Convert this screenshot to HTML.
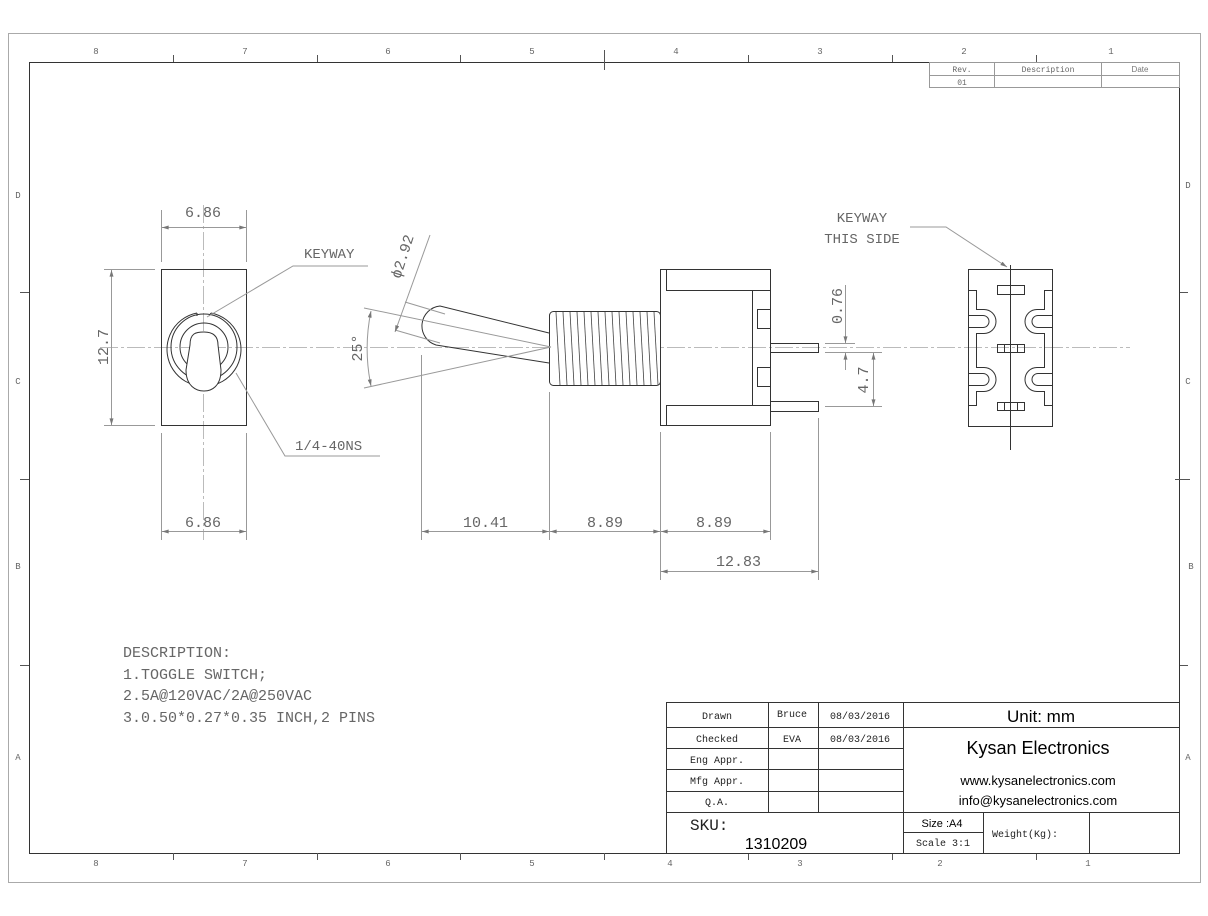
<!DOCTYPE html>
<html><head><meta charset="utf-8"><style>
html,body{margin:0;padding:0;background:#fff;}
svg{display:block;}
text{font-family:"Liberation Mono",monospace;fill:#666;}
.s{font-family:"Liberation Sans",sans-serif;fill:#000;}
</style></head><body>
<svg width="1208" height="916" viewBox="0 0 1208 916" xmlns="http://www.w3.org/2000/svg">
<defs>
<marker id="a" viewBox="0 0 10 6" refX="10" refY="3" markerWidth="8" markerHeight="4" orient="auto-start-reverse"><path d="M0,0L10,3L0,6z" fill="#777"/></marker>
</defs>
<rect x="8.5" y="33.5" width="1192" height="849" fill="none" stroke="#aaa" stroke-width="1"/>
<rect x="29.5" y="62.5" width="1150" height="791" fill="none" stroke="#333" stroke-width="1"/>
<g stroke="#555" stroke-width="1">
<line x1="173.5" y1="55" x2="173.5" y2="62"/><line x1="317.5" y1="55" x2="317.5" y2="62"/><line x1="460.5" y1="55" x2="460.5" y2="62"/><line x1="604.5" y1="50" x2="604.5" y2="70"/><line x1="748.5" y1="55" x2="748.5" y2="62"/><line x1="892.5" y1="55" x2="892.5" y2="62"/><line x1="1036.5" y1="55" x2="1036.5" y2="62"/>
<line x1="173.5" y1="853" x2="173.5" y2="860"/><line x1="317.5" y1="853" x2="317.5" y2="860"/><line x1="460.5" y1="853" x2="460.5" y2="860"/><line x1="604.5" y1="853" x2="604.5" y2="860"/><line x1="748.5" y1="853" x2="748.5" y2="860"/><line x1="892.5" y1="853" x2="892.5" y2="860"/><line x1="1036.5" y1="853" x2="1036.5" y2="860"/>
<line x1="20" y1="292.5" x2="29" y2="292.5"/><line x1="20" y1="479.5" x2="29" y2="479.5"/><line x1="20" y1="665.5" x2="29" y2="665.5"/>
<line x1="1180" y1="292.5" x2="1188" y2="292.5"/><line x1="1175" y1="479.5" x2="1190" y2="479.5"/><line x1="1180" y1="665.5" x2="1188" y2="665.5"/>
</g>
<g font-size="9" text-anchor="middle">
<text x="96" y="54">8</text><text x="245" y="54">7</text><text x="388" y="54">6</text><text x="532" y="54">5</text><text x="676" y="54">4</text><text x="820" y="54">3</text><text x="964" y="54">2</text><text x="1111" y="54">1</text>
<text x="96" y="866">8</text><text x="245" y="866">7</text><text x="388" y="866">6</text><text x="532" y="866">5</text><text x="670" y="866">4</text><text x="800" y="866">3</text><text x="940" y="866">2</text><text x="1088" y="866">1</text>
<text x="18" y="198">D</text><text x="18" y="384">C</text><text x="18" y="569">B</text><text x="18" y="760">A</text>
<text x="1188" y="188">D</text><text x="1188" y="384">C</text><text x="1191" y="569">B</text><text x="1188" y="760">A</text>
</g>
<g stroke="#999" stroke-width="1" fill="none">
<rect x="929.5" y="62.5" width="250" height="25"/>
<line x1="929" y1="75.5" x2="1179" y2="75.5"/>
<line x1="994.5" y1="62" x2="994.5" y2="88"/><line x1="1101.5" y1="62" x2="1101.5" y2="88"/>
</g>
<g font-size="8" text-anchor="middle"><text x="962" y="72">Rev.</text><text x="1048" y="72">Description</text><text x="1140" y="72" class="s" style="fill:#777">Date</text><text x="962" y="85">01</text></g>

<g stroke="#bbb" stroke-width="1" stroke-dasharray="18,3,3,3" fill="none">
<line x1="100" y1="347.5" x2="1130" y2="347.5"/>
<line x1="203.5" y1="205" x2="203.5" y2="540"/>
</g>

<g stroke="#333" stroke-width="1" fill="none">
<rect x="161.5" y="269.5" width="85" height="156"/>
<path d="M197,313 A37,37 0 1 0 211,313"/>
<path d="M197,313 L197,316 M211,313 L209,316"/>
<circle cx="204" cy="347" r="33"/>
<circle cx="204" cy="347" r="24"/>
<path d="M190,345 C190,333 196,332 204,332 C212,332 218,335 218,345 L221,370 C221,386 212,391 204,391 C196,391 186,386 186,370 Z" fill="#fff"/>
</g>
<g stroke="#999" stroke-width="1" fill="none">
<line x1="161.5" y1="210" x2="161.5" y2="262"/><line x1="246.5" y1="210" x2="246.5" y2="262"/>
<line x1="162" y1="227.5" x2="246" y2="227.5" marker-start="url(#a)" marker-end="url(#a)"/>
<line x1="161.5" y1="433" x2="161.5" y2="540"/><line x1="246.5" y1="433" x2="246.5" y2="540"/>
<line x1="162" y1="531.5" x2="246" y2="531.5" marker-start="url(#a)" marker-end="url(#a)"/>
<line x1="104" y1="269.5" x2="155" y2="269.5"/><line x1="104" y1="425.5" x2="155" y2="425.5"/>
<line x1="111.5" y1="270" x2="111.5" y2="425" marker-start="url(#a)" marker-end="url(#a)"/>
<path d="M207,317 L293,266 H368"/>
<path d="M236,373 L285,456 H380"/>
</g>
<g font-size="15"><text x="185" y="217">6.86</text><text x="185" y="527">6.86</text>
<text transform="translate(108,347) rotate(-90)" text-anchor="middle">12.7</text>
<text x="304" y="258" font-size="14">KEYWAY</text><text x="295" y="450" font-size="14">1/4-40NS</text></g>

<g stroke="#333" stroke-width="1" fill="none">
<path d="M549,333 L440,306 A20,20 0 0 0 436,345 L549,363"/>
<rect x="549.5" y="311.5" width="111" height="74" rx="4" fill="#fff"/>
<rect x="660.5" y="269.5" width="110" height="156"/>
<line x1="666.5" y1="270" x2="666.5" y2="290"/><line x1="666.5" y1="405" x2="666.5" y2="425"/>
<line x1="666" y1="290.5" x2="770" y2="290.5"/><line x1="666" y1="405.5" x2="770" y2="405.5"/>
<path d="M752.5,291 V405 M770,309.5 H757.5 V328.5 H770 M770,367.5 H757.5 V386.5 H770"/>
<rect x="770.5" y="343.5" width="48" height="9"/>
<rect x="770.5" y="401.5" width="48" height="10"/>
</g>
<g stroke="#444" stroke-width="0.8">
<line x1="556" y1="312" x2="560" y2="385"/><line x1="563" y1="312" x2="567" y2="385"/><line x1="570" y1="312" x2="574" y2="385"/><line x1="577" y1="312" x2="581" y2="385"/><line x1="584" y1="312" x2="588" y2="385"/><line x1="591" y1="312" x2="595" y2="385"/><line x1="598" y1="312" x2="602" y2="385"/><line x1="605" y1="312" x2="609" y2="385"/><line x1="612" y1="312" x2="616" y2="385"/><line x1="619" y1="312" x2="623" y2="385"/><line x1="626" y1="312" x2="630" y2="385"/><line x1="633" y1="312" x2="637" y2="385"/><line x1="640" y1="312" x2="644" y2="385"/><line x1="647" y1="312" x2="651" y2="385"/><line x1="654" y1="312" x2="658" y2="385"/>
</g>
<g stroke="#999" stroke-width="1" fill="none">
<line x1="551" y1="347" x2="364" y2="308"/><line x1="551" y1="347" x2="364" y2="388"/>
<path d="M371,311 A185,185 0 0 0 371,386" marker-start="url(#a)" marker-end="url(#a)"/>
<line x1="405" y1="302" x2="445" y2="314"/><line x1="395" y1="330" x2="440" y2="343"/>
<line x1="430" y1="235" x2="395" y2="332" marker-end="url(#a)"/>
<line x1="421.5" y1="355" x2="421.5" y2="540"/>
<line x1="549.5" y1="392" x2="549.5" y2="540"/>
<line x1="660.5" y1="432" x2="660.5" y2="580"/>
<line x1="770.5" y1="432" x2="770.5" y2="540"/>
<line x1="818.5" y1="418" x2="818.5" y2="580"/>
<line x1="422" y1="531.5" x2="549" y2="531.5" marker-start="url(#a)" marker-end="url(#a)"/>
<line x1="550" y1="531.5" x2="660" y2="531.5" marker-start="url(#a)" marker-end="url(#a)"/>
<line x1="661" y1="531.5" x2="770" y2="531.5" marker-start="url(#a)" marker-end="url(#a)"/>
<line x1="661" y1="571.5" x2="818" y2="571.5" marker-start="url(#a)" marker-end="url(#a)"/>
<line x1="825" y1="343.5" x2="855" y2="343.5"/><line x1="825" y1="352.5" x2="882" y2="352.5"/>
<line x1="845.5" y1="285" x2="845.5" y2="343" marker-end="url(#a)"/>
<line x1="845.5" y1="370" x2="845.5" y2="353" marker-end="url(#a)"/>
<line x1="825" y1="406.5" x2="882" y2="406.5"/>
<line x1="873.5" y1="353" x2="873.5" y2="406" marker-start="url(#a)" marker-end="url(#a)"/>
</g>
<g font-size="15">
<text transform="translate(362,348) rotate(-90)" text-anchor="middle">25°</text>
<text transform="translate(407,258) rotate(-72)" text-anchor="middle">ϕ2.92</text>
<text x="463" y="527">10.41</text><text x="587" y="527">8.89</text><text x="696" y="527">8.89</text><text x="716" y="566">12.83</text>
<text transform="translate(842,306) rotate(-90)" text-anchor="middle">0.76</text>
<text transform="translate(868,380) rotate(-90)" text-anchor="middle">4.7</text>
<text x="862" y="222" text-anchor="middle" font-size="14">KEYWAY</text>
<text x="862" y="243" text-anchor="middle" font-size="14">THIS SIDE</text>
</g>
<path d="M910,227 H946 L1007,267" stroke="#999" fill="none" marker-end="url(#a)"/>

<g stroke="#333" stroke-width="1" fill="none">
<rect x="968.5" y="269.5" width="84" height="157"/>
<line x1="1010.5" y1="265" x2="1010.5" y2="450"/>
<rect x="997.5" y="285.5" width="27" height="9"/>
<rect x="997.5" y="344.5" width="27" height="8"/><line x1="1004.5" y1="344" x2="1004.5" y2="353"/><line x1="1017.5" y1="344" x2="1017.5" y2="353"/>
<rect x="997.5" y="402.5" width="27" height="8"/><line x1="1004.5" y1="402" x2="1004.5" y2="411"/><line x1="1017.5" y1="402" x2="1017.5" y2="411"/>
<path d="M968,290.5 H976.5 V309.5 H984 A12,12 0 0 1 984,333.5 H976.5 V367.5 H984 A12,12 0 0 1 984,391.5 H976.5 V405.5 H968"/>
<path d="M968,315.5 H983 A6,6 0 0 1 983,327.5 H968 M968,373.5 H983 A6,6 0 0 1 983,385.5 H968"/>
<path d="M1052,290.5 H1044.5 V309.5 H1037 A12,12 0 0 0 1037,333.5 H1044.5 V367.5 H1037 A12,12 0 0 0 1037,391.5 H1044.5 V405.5 H1052"/>
<path d="M1052,315.5 H1038 A6,6 0 0 0 1038,327.5 H1052 M1052,373.5 H1038 A6,6 0 0 0 1038,385.5 H1052"/>
</g>

<g font-size="15" fill="#777"><text x="123" y="657">DESCRIPTION:</text><text x="123" y="679">1.TOGGLE SWITCH;</text><text x="123" y="700">2.5A@120VAC/2A@250VAC</text><text x="123" y="722">3.0.50*0.27*0.35 INCH,2 PINS</text></g>

<g stroke="#333" stroke-width="1" fill="none">
<rect x="666.5" y="702.5" width="513" height="151"/>
<line x1="666" y1="727.5" x2="1179" y2="727.5"/>
<line x1="666" y1="748.5" x2="903" y2="748.5"/>
<line x1="666" y1="769.5" x2="903" y2="769.5"/>
<line x1="666" y1="791.5" x2="903" y2="791.5"/>
<line x1="666" y1="812.5" x2="1179" y2="812.5"/>
<line x1="768.5" y1="702" x2="768.5" y2="812"/>
<line x1="818.5" y1="702" x2="818.5" y2="812"/>
<line x1="903.5" y1="702" x2="903.5" y2="853"/>
<line x1="903" y1="832.5" x2="983" y2="832.5"/>
<line x1="983.5" y1="812" x2="983.5" y2="853"/>
<line x1="1089.5" y1="812" x2="1089.5" y2="853"/>
</g>
<g font-size="10" text-anchor="middle">
<text x="717" y="719" style="fill:#222">Drawn</text><text x="792" y="717" style="fill:#222">Bruce</text><text x="860" y="719" style="fill:#222">08/03/2016</text>
<text x="717" y="742" style="fill:#222">Checked</text><text x="792" y="742" style="fill:#222">EVA</text><text x="860" y="742" style="fill:#222">08/03/2016</text>
<text x="717" y="763" style="fill:#222">Eng Appr.</text><text x="717" y="784" style="fill:#222">Mfg Appr.</text><text x="717" y="805" style="fill:#222">Q.A.</text>
<text x="943" y="846" style="fill:#222">Scale 3:1</text><text x="1025" y="837" style="fill:#222">Weight(Kg):</text>
</g>
<text x="690" y="830" font-size="16" style="fill:#222">SKU:</text>
<text x="776" y="849" class="s" font-size="16" text-anchor="middle">1310209</text>
<text x="1041" y="722" class="s" font-size="17" text-anchor="middle">Unit: mm</text>
<text x="1038" y="754" class="s" font-size="18" text-anchor="middle">Kysan Electronics</text>
<text x="1038" y="785" class="s" font-size="13" text-anchor="middle">www.kysanelectronics.com</text>
<text x="1038" y="805" class="s" font-size="13" text-anchor="middle">info@kysanelectronics.com</text>
<text x="942" y="827" class="s" font-size="11" text-anchor="middle">Size :A4</text>
</svg>
</body></html>
